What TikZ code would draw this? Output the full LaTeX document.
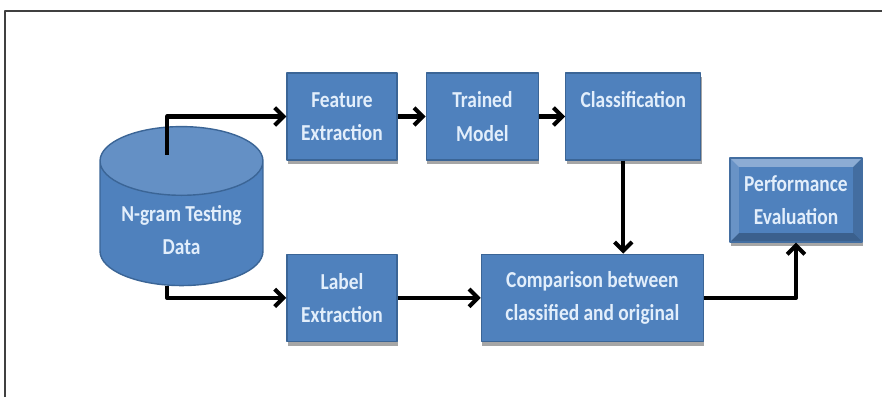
\documentclass[tikz,border=0pt]{standalone}
\usepackage{fontspec}
\setmainfont{Carlito}[FakeStretch=0.85]
\usetikzlibrary{arrows.meta, positioning, shapes.geometric, shadows}

\definecolor{boxblue}{HTML}{4F81BD}
\definecolor{boxedge}{HTML}{3B6596}
\definecolor{boxtext}{HTML}{E2EEFB}

\begin{document}
\begin{tikzpicture}[x=0.02cm, y=0.02cm, line join=round]

	\tikzset{
		stage/.style={
				rectangle, draw=boxedge, fill=boxblue, line width=0.8pt, text=boxtext, align=center,
				font=\bfseries\fontsize{13}{19}\selectfont, inner sep=2pt, minimum height=1.74cm,
				drop shadow={shadow xshift=0.5pt, shadow yshift=-2.5pt, fill=black, opacity=0.35}
			},
		bevelstage/.style={
				stage, draw=boxblue!85!black,
				path picture={
						\fill[white, opacity=0.35] (path picture bounding box.north west) -- (path picture bounding box.north east)
						-- ([shift={(-5pt,-5pt)}]path picture bounding box.north east) -- ([shift={(5pt,-5pt)}]path picture bounding box.north west) -- cycle;
						\fill[white, opacity=0.15] (path picture bounding box.north west) -- (path picture bounding box.south west)
						-- ([shift={(5pt,5pt)}]path picture bounding box.south west) -- ([shift={(5pt,-5pt)}]path picture bounding box.north west) -- cycle;
						\fill[black, opacity=0.15] (path picture bounding box.north east) -- (path picture bounding box.south east)
						-- ([shift={(-5pt,5pt)}]path picture bounding box.south east) -- ([shift={(-5pt,-5pt)}]path picture bounding box.north east) -- cycle;
						\fill[black, opacity=0.25] (path picture bounding box.south west) -- (path picture bounding box.south east)
						-- ([shift={(-5pt,5pt)}]path picture bounding box.south east) -- ([shift={(5pt,5pt)}]path picture bounding box.south west) -- cycle;
					}
			},
		store/.style={
				cylinder, shape border rotate=90, aspect=0.52, draw=boxedge, line width=0.8pt,
				cylinder uses custom fill, cylinder body fill=boxblue, cylinder end fill=boxblue!88!white,
				minimum width=3.26cm, minimum height=3.18cm, text=boxtext, align=center,
				font=\bfseries\fontsize{13}{19}\selectfont
			},
		flow/.style={
				line width=2.3pt, -{Straight Barb[length=5pt, width=10pt]}
			},
	}

	\useasboundingbox (0,0) rectangle (882,397);
	\draw[line width=0.6pt, black!75] (5,0) -- (5,386) -- (882,386);

	\node[store] (data) at (181.5,167) {N-gram Testing\\Data};
	\node[stage, minimum width=2.2cm] (feat) at (342,280.5) {Feature\\Extraction};
	\node[stage, minimum width=2.24cm, right=0.56cm of feat] (model) {Trained\\Model};
	\node[stage, minimum width=2.7cm, right=0.52cm of model] (classif) {Classification\\~};
	\node[stage, minimum width=2.2cm, below=1.86cm of feat] (label) {Label\\Extraction};
	\node[stage, minimum width=4.44cm, right=1.66cm of label] (comp) {Comparison between\\classified and original};
	\node[bevelstage, minimum width=2.64cm, minimum height=1.68cm] (perf) at (796,197) {Performance\\Evaluation};

	\draw[flow] ([xshift=-0.29cm, yshift=-0.58cm]data.north) |- (feat.west);
	\draw[flow] ([xshift=-0.29cm]data.south) |- (label.west);
	\draw[flow] (feat) -- (model);
	\draw[flow] (model) -- (classif);
	\draw[flow] ([xshift=-0.2cm]classif.south) -- ([xshift=-0.2cm]classif.south |- comp.north);
	\draw[flow] (label) -- (comp);
	\draw[flow] (comp.east) -| (perf.south);
\end{tikzpicture}
\end{document}
